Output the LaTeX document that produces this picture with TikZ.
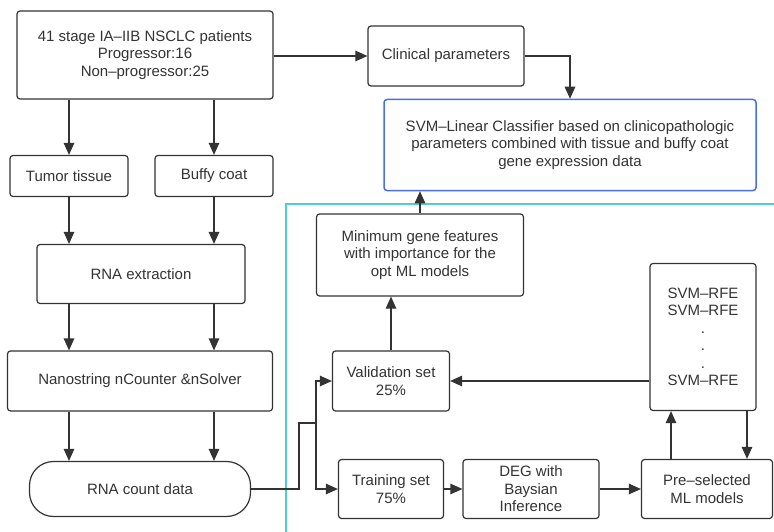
\documentclass[tikz,border=0pt]{standalone}
\usepackage{fontspec}
\setmainfont{Liberation Sans}
\usetikzlibrary{arrows.meta}
\definecolor{linegray}{HTML}{333333}
\definecolor{boxblue}{HTML}{4A6CEE}
\definecolor{framecyan}{HTML}{4DCFCF}
\begin{document}
\begin{tikzpicture}[
    x=1pt, y=-1pt,
    every node/.style={font=\fontsize{15}{17.5}\selectfont, text=linegray, align=center},
    caja/.style={draw=linegray, line width=1.2pt, rounded corners=3pt, inner sep=0pt},
    clasificador/.style={caja, draw=boxblue, line width=1.5pt},
    datos/.style={draw=linegray, line width=1.2pt, rounded corners=24pt, inner sep=0pt},
    flecha/.style={draw=linegray, line width=1.2pt, -{Triangle[length=12pt, width=10.5pt]}},
    linea/.style={draw=linegray, line width=1.2pt}
]
\useasboundingbox (0,0) rectangle (774,532);
% Marco
\draw[framecyan, line width=1.8pt] (776,204) -- (286,204) -- (286,534);
% Pacientes
\node[caja, minimum width=256pt, minimum height=88pt] (patients) at (145,55) {41 stage IA--IIB NSCLC patients\\Progressor:16\\Non--progressor:25};
\node[caja, minimum width=156pt, minimum height=60pt] (clinical) at (446,56) {Clinical parameters};
\node[clasificador, minimum width=372pt, minimum height=91pt] (classifier) at (570,145) {SVM--Linear Classifier based on clinicopathologic\\parameters combined with tissue and buffy coat\\gene expression data};
% Muestras
\node[caja, minimum width=118pt, minimum height=41pt] (tumor) at (69,176) {Tumor tissue};
\node[caja, minimum width=118pt, minimum height=41pt] (buffy) at (214,176) {Buffy coat};
\node[caja, minimum width=208pt, minimum height=59pt] (extraction) at (141,274) {RNA extraction};
\node[caja, minimum width=265pt, minimum height=60pt] (nanostring) at (140,381) {Nanostring nCounter \&nSolver};
\node[datos, minimum width=221pt, minimum height=55pt] (countdata) at (140,489) {RNA count data};
% Modelos
\node[caja, minimum width=207pt, minimum height=82pt] (mingene) at (420,255) {Minimum gene features\\with importance for the\\opt ML models};
\node[caja, minimum width=117pt, minimum height=60pt] (validation) at (391,381) {Validation set\\25\%};
\node[caja, minimum width=105pt, minimum height=59pt] (training) at (391,489) {Training set\\75\%};
\node[caja, minimum width=136pt, minimum height=59pt] (deg) at (531,489) {DEG with\\Baysian\\Inference};
\node[caja, minimum width=131pt, minimum height=59pt] (preselected) at (707,489) {Pre--selected\\ML models};
\node[caja, minimum width=106pt, minimum height=147pt] (svmrfe) at (703,337) {SVM--RFE\\SVM--RFE\\.\\.\\.\\SVM--RFE};
\coordinate (bend) at (299,423);
\coordinate (split) at (316,423);
% Aristas
\draw[flecha] (patients.east |- clinical.west) -- (clinical.west);
\draw[flecha] (clinical.east) -| (classifier.north);
\draw[flecha] (tumor.north |- patients.south) -- (tumor.north);
\draw[flecha] (buffy.north |- patients.south) -- (buffy.north);
\draw[flecha] (tumor.south) -- (tumor.south |- extraction.north);
\draw[flecha] (buffy.south) -- (buffy.south |- extraction.north);
\draw[flecha] (tumor.south |- extraction.south) -- (tumor.south |- nanostring.north);
\draw[flecha] (buffy.south |- extraction.south) -- (buffy.south |- nanostring.north);
\draw[flecha] (tumor.south |- nanostring.south) -- (tumor.south |- countdata.north);
\draw[flecha] (buffy.south |- nanostring.south) -- (buffy.south |- countdata.north);
\draw[linea] (countdata.east) -| (bend) -- (split);
\draw[flecha] (split) |- (validation.west);
\draw[flecha] (split) |- (training.west);
\draw[flecha] (training.east) -- (deg.west);
\draw[flecha] (deg.east) -- (preselected.west);
\draw[flecha] ([xshift=-32pt]svmrfe.south |- preselected.north) -- ([xshift=-32pt]svmrfe.south);
\draw[flecha] ([xshift=44pt]svmrfe.south) -- ([xshift=44pt]svmrfe.south |- preselected.north);
\draw[flecha] (svmrfe.west |- validation.east) -- (validation.east);
\draw[flecha] (validation.north) -- (validation.north |- mingene.south);
\draw[flecha] (mingene.north) -- (mingene.north |- classifier.south);
\end{tikzpicture}
\end{document}
